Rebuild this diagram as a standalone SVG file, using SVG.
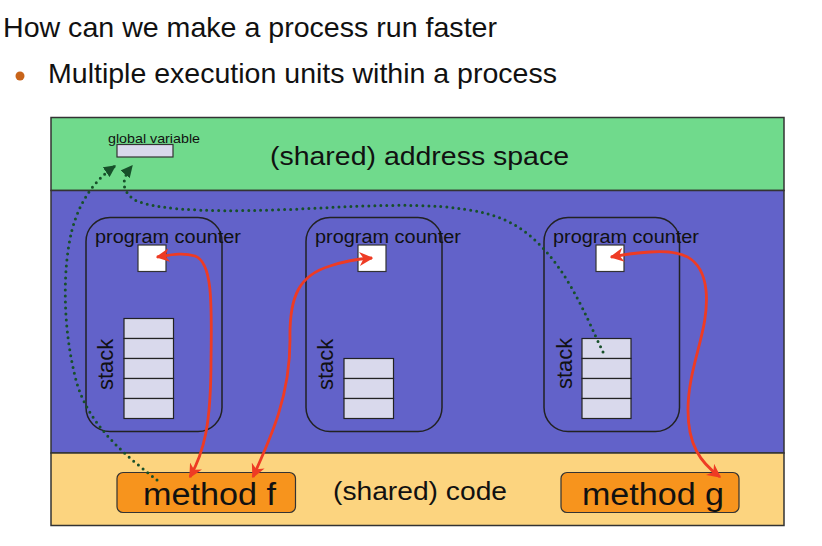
<svg xmlns="http://www.w3.org/2000/svg" width="822" height="546" viewBox="0 0 822 546">
<defs>
<style>
text{font-family:"Liberation Sans",Arial,sans-serif;fill:#111}
.band{stroke:#333;stroke-width:1.5}
.thread{fill:none;stroke:#222;stroke-width:1.5}
.pc{fill:#fff;stroke:#333;stroke-width:1.2}
.cell{fill:#D9D9EC;stroke:#222;stroke-width:1.2}
.method{fill:#F7941D;stroke:#333;stroke-width:1.2}
.red{fill:none;stroke:#EE3B24;stroke-width:2.8;marker-start:url(#ra);marker-end:url(#ra)}
.dot{fill:none;stroke:#17502A;stroke-width:3;stroke-linecap:round;stroke-dasharray:0 6;marker-end:url(#ga)}
</style>
<marker id="ra" viewBox="0 0 10 10" refX="9" refY="5" markerWidth="5" markerHeight="5" orient="auto-start-reverse" markerUnits="strokeWidth">
<path d="M0,0 L10,5 L0,10 L3,5 Z" fill="#EE3B24"/>
</marker>
<marker id="ga" viewBox="0 0 10 10" refX="9" refY="5" markerWidth="4" markerHeight="4" orient="auto" markerUnits="strokeWidth">
<path d="M0,0 L10,5 L0,10 Z" fill="#17502A"/>
</marker>
</defs>
<rect width="822" height="546" fill="#fff"/>
<g id="title">
<text x="3" y="37" font-size="28.5" textLength="494" lengthAdjust="spacingAndGlyphs">How can we make a process run faster</text>
<circle cx="20" cy="76" r="4.5" fill="#C8641A"/>
<text x="48" y="83" font-size="28.5" textLength="509" lengthAdjust="spacingAndGlyphs">Multiple execution units within a process</text>
</g>
<g id="address-space">
<rect class="band" x="51" y="117.5" width="733" height="73" fill="#70DA8C"/>
<text x="270" y="165" font-size="26" textLength="299" lengthAdjust="spacingAndGlyphs">(shared) address space</text>
</g>
<g id="global-variable">
<rect x="117" y="144.5" width="56" height="12.5" fill="#D9D9EC" stroke="#333" stroke-width="1.2"/>
<text x="108" y="142.5" font-size="13" textLength="92" lengthAdjust="spacingAndGlyphs">global variable</text>
</g>
<g id="threads-area">
<rect class="band" x="51" y="190.5" width="733" height="262.5" fill="#6262C9"/>
</g>
<g id="code-area">
<rect class="band" x="51" y="453" width="733" height="72.5" fill="#FCD47F"/>
<text x="333" y="499.5" font-size="25" textLength="174" lengthAdjust="spacingAndGlyphs">(shared) code</text>
</g>
<g id="thread1">
<rect class="thread" x="86" y="217.5" width="136" height="214" rx="24"/>
<text x="95" y="243" font-size="18" textLength="146" lengthAdjust="spacingAndGlyphs">program counter</text>
<rect class="pc" x="138" y="245" width="28" height="26.5"/>
<text transform="translate(113,390) rotate(-90)" font-size="22">stack</text>
<rect class="cell" x="124" y="318.5" width="49.5" height="20"/>
<rect class="cell" x="124" y="338.5" width="49.5" height="20"/>
<rect class="cell" x="124" y="358.5" width="49.5" height="20"/>
<rect class="cell" x="124" y="378.5" width="49.5" height="20"/>
<rect class="cell" x="124" y="398.5" width="49.5" height="20"/>
</g>
<g id="thread2">
<rect class="thread" x="306" y="217.5" width="136" height="214" rx="24"/>
<text x="315" y="243" font-size="18" textLength="146" lengthAdjust="spacingAndGlyphs">program counter</text>
<rect class="pc" x="358" y="245" width="28" height="26.5"/>
<text transform="translate(333,390) rotate(-90)" font-size="22">stack</text>
<rect class="cell" x="344" y="358.5" width="49.5" height="20"/>
<rect class="cell" x="344" y="378.5" width="49.5" height="20"/>
<rect class="cell" x="344" y="398.5" width="49.5" height="20"/>
</g>
<g id="thread3">
<rect class="thread" x="544" y="217.5" width="135.5" height="214" rx="24"/>
<text x="553" y="243" font-size="18" textLength="146" lengthAdjust="spacingAndGlyphs">program counter</text>
<rect class="pc" x="596" y="245" width="28" height="26.5"/>
<text transform="translate(572,389) rotate(-90)" font-size="22">stack</text>
<rect class="cell" x="582" y="338.5" width="49" height="20"/>
<rect class="cell" x="582" y="358.5" width="49" height="20"/>
<rect class="cell" x="582" y="378.5" width="49" height="20"/>
<rect class="cell" x="582" y="398.5" width="49" height="20"/>
</g>
<g id="method-f">
<rect class="method" x="117" y="472.5" width="178.5" height="40" rx="6"/>
<text x="143" y="505" font-size="31" textLength="133" lengthAdjust="spacingAndGlyphs">method f</text>
</g>
<g id="method-g">
<rect class="method" x="561" y="472.5" width="178" height="40" rx="6"/>
<text x="582" y="505" font-size="31" textLength="142" lengthAdjust="spacingAndGlyphs">method g</text>
</g>
<g id="connectors">
<path class="red" d="M190,477 C204,452 211,425 211,360 C212,300 212,262 195,256 C182,252 170,255 157,257"/>
<path class="red" d="M253,477 C272,435 290,395 290,340 C289,295 300,275 330,266 C345,261 358,259 372,258"/>
<path class="red" d="M720,477 C700,462 688,445 688,410 C688,365 710,330 706,290 C702,255 680,250 650,252 C635,253 622,255 611,257"/>
<path class="dot" d="M157,480 C125,455 88,425 76,380 C63,330 62,270 72,230 C80,200 95,180 115,166"/>
<path class="dot" d="M603,352 C585,315 560,245 505,220 C460,200 380,205 300,209 C230,212 160,212 135,200 C120,190 122,178 132,166"/>
</g>
</svg>
